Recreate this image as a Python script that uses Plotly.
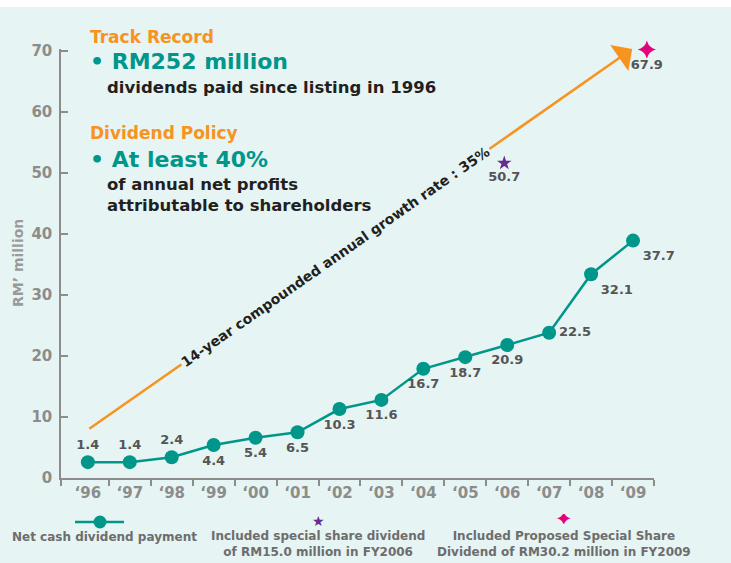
import plotly.graph_objects as go

# data
years = ["‘96", "‘97", "‘98", "‘99", "‘00", "‘01", "‘02", "‘03", "‘04", "‘05", "‘06", "‘07", "‘08", "‘09"]
marker_y = [2.6, 2.6, 3.4, 5.4, 6.6, 7.5, 11.3, 12.8, 17.9, 19.8, 21.8, 23.8, 33.4, 38.9]
value_labels = ["1.4", "1.4", "2.4", "4.4", "5.4", "6.5", "10.3", "11.6", "16.7", "18.7", "20.9", "22.5", "32.1", "37.7"]
label_pos = ["top center"] * 3 + ["bottom center"] * 8 + ["middle right", "bottom right", "bottom right"]

special_x = [9.93]
special_y = [51.6]
special_label = ["50.7"]
proposed_x = [13.33]
proposed_y = [70.2]
proposed_label = ["67.9"]

cagr_start = (0, 7.9)
cagr_end = (12.98, 70.3)

BG = "#e6f4f3"
TEAL = "#00968a"
ORANGE = "#f7931e"
PINK = "#e6007e"
PURPLE = "#662d91"
DARK = "#231f20"
LBL = "#555555"
GREY = "#8c8c8c"
FONT = "DejaVu Sans"

W, H = 731, 563
L, R, T, B = 61, 77, 49, 85


def px(x):
    return (x - L) / (W - L - R)


def py(y):
    return (H - B - y) / (H - T - B)


fig = go.Figure()

fig.add_trace(go.Scatter(
    x=list(range(len(years))), y=marker_y, mode="lines+markers+text",
    text=value_labels, textposition=label_pos,
    textfont=dict(family=FONT, size=13, color=LBL, weight="bold"),
    line=dict(color=TEAL, width=2.5), marker=dict(color=TEAL, size=14),
    cliponaxis=False, showlegend=False, hoverinfo="skip",
))
fig.add_trace(go.Scatter(
    x=special_x, y=special_y, mode="markers+text", text=special_label,
    textposition="bottom center",
    textfont=dict(family=FONT, size=13, color=LBL, weight="bold"),
    marker=dict(symbol="star", color=PURPLE, size=11),
    cliponaxis=False, showlegend=False, hoverinfo="skip",
))
fig.add_trace(go.Scatter(
    x=proposed_x, y=proposed_y, mode="markers+text", text=proposed_label,
    textposition="bottom center",
    textfont=dict(family=FONT, size=13, color=LBL, weight="bold"),
    marker=dict(symbol="star-diamond", color=PINK, size=13),
    cliponaxis=False, showlegend=False, hoverinfo="skip",
))

ann = []
# CAGR arrow
ann.append(dict(x=cagr_end[0], y=cagr_end[1], ax=cagr_start[0], ay=cagr_start[1],
                xref="x", yref="y", axref="x", ayref="y", text="", showarrow=True,
                arrowhead=1, arrowsize=2.1, arrowwidth=2.5, arrowcolor=ORANGE,
                standoff=0, startstandoff=0))
ann.append(dict(x=px(335), y=py(257), xref="paper", yref="paper",
                xanchor="center", yanchor="middle",
                text="14-year compounded annual growth rate : 35%", textangle=-35,
                showarrow=False, bgcolor=BG, borderpad=1,
                font=dict(family=FONT, size=14, color=DARK, weight="bold")))

# text block
blocks = [
    (88, 37, "Track Record", 17, ORANGE),
    (88, 62, "• RM252 million", 22, TEAL),
    (105, 87, "dividends paid since listing in 1996", 16.5, DARK),
    (88, 133, "Dividend Policy", 17, ORANGE),
    (88, 159, "• At least 40%", 22, TEAL),
    (105, 184, "of annual net profits", 16.5, DARK),
    (105, 205, "attributable to shareholders", 16.5, DARK),
]
for x, y, t, s, c in blocks:
    ann.append(dict(x=px(x), y=py(y), xref="paper", yref="paper", text=t,
                    xanchor="left", yanchor="middle", showarrow=False,
                    font=dict(family=FONT, size=s, color=c, weight="bold")))

ann.append(dict(x=px(18), y=py(263), xref="paper", yref="paper", text="RM’ million",
                xanchor="center", yanchor="middle", textangle=-90, showarrow=False,
                font=dict(family=FONT, size=14, color="#9a9a9a", weight="bold")))

# legend
legend_font = dict(family=FONT, size=12, color="#6d6d6d", weight="bold")
legend_items = [
    (104, 537, "Net cash dividend payment"),
    (318, 544, "Included special share dividend<br>of RM15.0 million in FY2006"),
    (564, 544, "Included Proposed Special Share<br>Dividend of RM30.2 million in FY2009"),
]
for x, y, t in legend_items:
    ann.append(dict(x=px(x), y=py(y), xref="paper", yref="paper", text=t,
                    xanchor="center", yanchor="middle", showarrow=False, font=legend_font))
ann.append(dict(x=px(318), y=py(521), xref="paper", yref="paper", text="★",
                xanchor="center", yanchor="middle", height=12, borderpad=0,
                showarrow=False, font=dict(family=FONT, size=14, color=PURPLE)))
ann.append(dict(x=px(564), y=py(519), xref="paper", yref="paper", text="✦",
                xanchor="center", yanchor="middle", height=10, borderpad=0,
                showarrow=False, font=dict(family=FONT, size=21, color=PINK)))

shapes = [
    dict(type="line", xref="paper", yref="paper", x0=px(75), x1=px(124), y0=py(522), y1=py(522),
         line=dict(color=TEAL, width=2.5)),
    dict(type="circle", xref="paper", yref="paper", x0=px(93.5), x1=px(106.5), y0=py(528.5), y1=py(515.5),
         fillcolor=TEAL, line=dict(color=TEAL, width=0)),
    dict(type="rect", xref="paper", yref="paper", x0=px(0), x1=px(W), y0=py(7), y1=py(0),
         fillcolor="white", line=dict(width=0)),
]

fig.update_layout(
    width=W, height=H, margin=dict(l=L, r=R, t=T, b=B),
    paper_bgcolor=BG, plot_bgcolor=BG,
    annotations=ann, shapes=shapes,
    font=dict(family=FONT),
)
fig.update_xaxes(
    range=[-0.64, 13.5], tickmode="array", tickvals=list(range(len(years))), ticktext=years,
    ticks="", showgrid=False, zeroline=False, showline=True, linecolor=GREY, linewidth=1.5,
    tickfont=dict(family=FONT, size=15, color=GREY, weight="bold"),
    minor=dict(tickmode="array", tickvals=[-0.64] + [i + 0.5 for i in range(len(years))],
               ticks="outside", ticklen=6, tickcolor=GREY, tickwidth=1.5, showgrid=False),
)
fig.update_yaxes(
    range=[0, 70.3], tickvals=[0, 10, 20, 30, 40, 50, 60, 70],
    ticks="inside", ticklen=7, tickcolor=GREY, tickwidth=1.5,
    showgrid=False, zeroline=False, showline=True, linecolor=GREY, linewidth=1.5,
    tickfont=dict(family=FONT, size=15, color=GREY, weight="bold"), ticklabelstandoff=4,
)

fig.write_html("out.html", config={"displayModeBar": False},
               post_script="document.body.style.margin='0';")
